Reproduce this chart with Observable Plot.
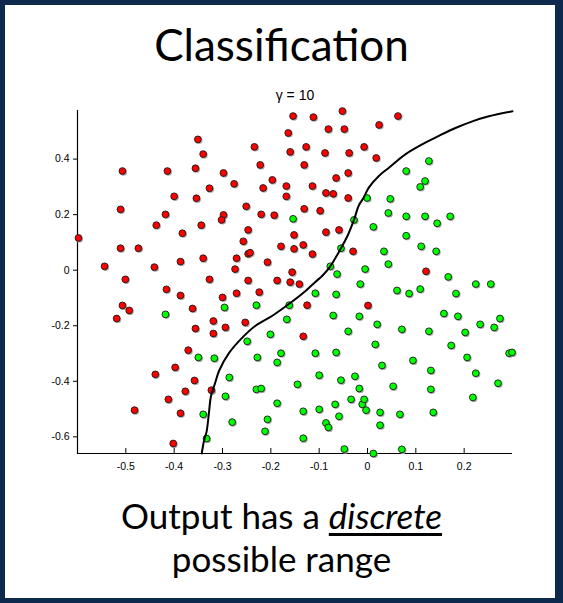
<!DOCTYPE html>
<html>
<head>
<meta charset="utf-8">
<script src="https://cdn.jsdelivr.net/npm/d3@7"></script>
<script src="https://cdn.jsdelivr.net/npm/@observablehq/plot@0.6"></script>
<style>
  html, body { margin: 0; padding: 0; background: #fff; }
  #page { position: relative; width: 563px; height: 603px; overflow: hidden; background: #fff; }
  #border { position: absolute; left: 0; top: 0; width: 563px; height: 603px; box-sizing: border-box;
            border-style: solid; border-color: #0d2a4c; border-width: 5px 8px 5px 5px; pointer-events: none; }
  .big { position: absolute; left: 0; width: 563px; text-align: center; font-family: Lato, "Open Sans", sans-serif; color: #000; }
  #title { top: 19px; font-size: 44px; line-height: 50px; }
  #caption { top: 494px; font-size: 35px; line-height: 43px; }
  #caption u { text-decoration-thickness: 3px; text-underline-offset: 4px; }
  #chart { position: absolute; left: 0; top: 60px; font-family: "Liberation Sans", Arial, sans-serif; }
</style>
</head>
<body>
<div id="page">
  <div id="title" class="big">Classification</div>
  <div id="chart"></div>
  <div id="caption" class="big">Output has a <u><i>discrete</i></u><br>possible range</div>
  <div id="border"></div>
</div>
<script>
// ---- data ----
const redX = [-0.598,-0.507,-0.511,-0.511,-0.474,-0.544,-0.501,-0.441,-0.437,-0.418,-0.414,-0.400,-0.383,-0.387,-0.351,-0.340,-0.356,-0.354,-0.344,-0.340,-0.327,-0.327,
  -0.154,-0.112,-0.052,-0.164,-0.081,-0.048,-0.234,-0.160,-0.127,-0.088,-0.038,-0.222,-0.131,-0.298,-0.276,-0.216,-0.197,-0.168,-0.168,-0.114,-0.065,-0.040,-0.086,-0.071,-0.040,
  -0.251,-0.298,-0.302,-0.220,-0.193,-0.131,-0.098,-0.247,-0.257,-0.247,-0.243,-0.271,-0.274,-0.207,-0.179,-0.152,-0.152,-0.133,-0.114,-0.086,-0.059,-0.030,-0.156,-0.247,-0.187,-0.160,-0.141,
  0.063,0.024,-0.007,0.018,0.121,
  -0.416,-0.387,-0.507,-0.493,-0.519,-0.362,-0.356,-0.371,-0.398,-0.439,-0.358,-0.377,-0.412,-0.482,-0.387,-0.402,-0.323,
  -0.300,-0.271,-0.224,-0.125,-0.319,-0.319,-0.294,-0.253,-0.133,0.001];
const redY = [0.116,0.357,0.219,0.079,0.079,0.014,-0.033,0.011,0.162,0.201,0.357,0.266,0.133,0.031,0.471,0.418,0.367,0.259,0.162,0.043,0.295,-0.033,
  0.555,0.551,0.573,0.494,0.508,0.508,0.444,0.426,0.444,0.422,0.422,0.379,0.379,0.350,0.311,0.296,0.325,0.303,0.266,0.303,0.332,0.350,0.278,0.275,0.260,
  0.230,0.199,0.181,0.201,0.198,0.221,0.214,0.145,0.104,0.059,0.063,0.043,0.004,0.029,0.086,0.127,0.077,0.091,0.058,0.137,0.145,0.068,-0.007,-0.037,-0.037,-0.043,-0.050,
  0.555,0.523,0.444,0.404,-0.004,
  -0.069,-0.091,-0.127,-0.145,-0.174,-0.138,-0.210,-0.288,-0.350,-0.375,-0.397,-0.436,-0.465,-0.504,-0.515,-0.624,-0.432,
  -0.098,-0.083,-0.079,-0.126,-0.183,-0.228,-0.206,-0.188,-0.238,-0.127];

const greenX = [-0.154,-0.028,-0.055,-0.077,-0.063,0.127,0.080,0.119,0.109,-0.001,0.047,0.043,0.080,0.119,0.171,0.012,0.144,0.080,0.111,0.034,0.142,-0.005,0.043,0.167,-0.015,0.224,0.255,
  -0.418,-0.350,-0.340,-0.333,-0.296,-0.230,-0.162,-0.108,-0.065,-0.167,-0.071,-0.017,-0.201,-0.249,-0.040,-0.317,-0.228,-0.179,-0.187,-0.108,-0.065,-0.286,-0.230,-0.220,-0.145,-0.100,-0.055,-0.026,-0.017,
  -0.294,-0.187,-0.133,-0.100,-0.067,-0.034,-0.280,-0.207,-0.212,-0.086,-0.081,-0.059,-0.133,-0.048,-0.011,
  0.061,0.086,0.109,0.183,0.158,0.187,0.233,0.274,0.262,0.020,0.071,0.127,0.202,0.016,0.173,0.293,0.299,0.206,0.030,0.094,0.131,0.224,0.270,0.053,0.131,0.218,-0.007,-0.003,0.026,0.067,0.136,0.026,0.071,0.012];
const greenY = [0.185,0.181,0.079,0.014,-0.014,0.393,0.357,0.321,0.300,0.260,0.257,0.206,0.194,0.194,0.194,0.156,0.169,0.124,0.086,0.068,0.068,0.004,0.022,-0.024,-0.050,-0.050,-0.050,
  -0.159,-0.314,-0.519,-0.606,-0.134,-0.126,-0.126,-0.083,-0.087,-0.177,-0.163,-0.166,-0.231,-0.256,-0.220,-0.317,-0.314,-0.299,-0.332,-0.299,-0.296,-0.386,-0.429,-0.426,-0.411,-0.378,-0.396,-0.382,-0.426,
  -0.454,-0.479,-0.508,-0.501,-0.483,-0.465,-0.547,-0.537,-0.580,-0.550,-0.566,-0.526,-0.605,-0.644,-0.483,
  -0.073,-0.084,-0.068,-0.084,-0.156,-0.166,-0.195,-0.174,-0.206,-0.195,-0.213,-0.220,-0.224,-0.267,-0.271,-0.299,-0.296,-0.314,-0.343,-0.325,-0.361,-0.371,-0.407,-0.418,-0.429,-0.458,-0.465,-0.504,-0.512,-0.519,-0.512,-0.558,-0.645,-0.660];

const boundaryX = [-0.343,-0.338,-0.333,-0.328,-0.324,-0.315,-0.307,-0.286,-0.258,-0.231,-0.196,-0.162,-0.127,-0.109,-0.093,-0.077,-0.055,-0.041,-0.028,-0.018,-0.008,0.003,0.024,0.045,0.079,0.114,0.148,0.182,0.217,0.251,0.300];
const boundaryY = [-0.660,-0.612,-0.582,-0.513,-0.455,-0.405,-0.362,-0.297,-0.241,-0.199,-0.163,-0.121,-0.073,-0.044,-0.019,0.014,0.079,0.125,0.181,0.233,0.261,0.298,0.340,0.370,0.418,0.454,0.484,0.512,0.536,0.554,0.572];

const xTicks = [-0.5,-0.4,-0.3,-0.2,-0.1,0,0.1,0.2];
const xTickLabels = ["-0.5","-0.4","-0.3","-0.2","-0.1","0","0.1","0.2"];
const yTicks = [-0.6,-0.4,-0.2,0,0.2,0.4];
const yTickLabels = ["-0.6","-0.4","-0.2","0","0.2","0.4"];
const xDomain = [-0.6, 0.3];
const yDomain = [-0.66, 0.575];
const plotTitle = "γ = 10";

// ---- build ----
const red = redX.map((x, i) => ({x, y: redY[i]}));
const green = greenX.map((x, i) => ({x, y: greenY[i]}));
const boundary = boundaryX.map((x, i) => ({x, y: boundaryY[i]}));

const chart = Plot.plot({
  width: 563,
  height: 420,
  marginLeft: 77,
  marginRight: 51,
  marginTop: 50,
  marginBottom: 27,
  style: {fontFamily: "'Liberation Sans', Arial, sans-serif", fontSize: "10.5px", color: "#000", background: "transparent"},
  x: {domain: xDomain},
  y: {domain: yDomain},
  marks: [
    Plot.ruleX([xDomain[0]], {stroke: "#000", strokeWidth: 1.2}),
    Plot.ruleY([yDomain[0]], {stroke: "#000", strokeWidth: 1.2}),
    Plot.axisY({ticks: yTicks, tickSize: 4, tickPadding: 4, tickFormat: d => yTickLabels[yTicks.indexOf(d)], label: null, fontFamily: "Liberation Sans"}),
    Plot.axisX({ticks: xTicks, tickSize: 0, tickPadding: 9, tickFormat: d => xTickLabels[xTicks.indexOf(d)], label: null, fontFamily: "Liberation Sans"}),
    Plot.tickX(xTicks, {x: d => d, stroke: "#000", insetTop: 338}),
    Plot.dot(red, {x: "x", y: "y", r: 3.6, fill: "#a8a8a8", stroke: "none", dx: 1, dy: 1}),
    Plot.dot(green, {x: "x", y: "y", r: 3.6, fill: "#a8a8a8", stroke: "none", dx: 1, dy: 1}),
    Plot.dot(red, {x: "x", y: "y", r: 3.4, fill: "#ff0000", stroke: "#1a1a1a", strokeWidth: 0.9}),
    Plot.dot(green, {x: "x", y: "y", r: 3.4, fill: "#00ff00", stroke: "#1a1a1a", strokeWidth: 0.9}),
    Plot.line(boundary, {x: "x", y: "y", curve: "catmull-rom", stroke: "#000", strokeWidth: 2}),
    Plot.text([plotTitle], {frameAnchor: "top", lineAnchor: "bottom", dy: -11, fontSize: 14, fill: "#000", fontFamily: "Liberation Sans"})
  ]
});
document.getElementById("chart").appendChild(chart);
</script>
</body>
</html>
